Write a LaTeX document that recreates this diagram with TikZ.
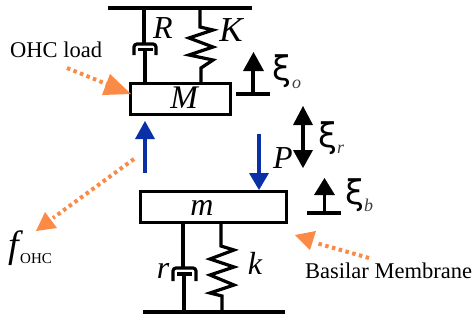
\documentclass[tikz,border=0pt]{standalone}
\usepackage{fontspec}
\setmainfont{Liberation Serif}
\newfontfamily\xifont{DejaVu Sans}
\definecolor{orangeA}{HTML}{FA8A46}
\definecolor{blueA}{HTML}{0A30A8}
\newcommand{\fsz}[1]{\fontsize{#1}{#1}\selectfont}
\tikzset{
 bar/.style={line width=3.8pt},
 rod/.style={line width=3.2pt},
 massbox/.style={draw,line width=3.6pt,fill=white,inner sep=0pt,minimum width=#1,minimum height=31pt},
 bigit/.style={font=\fsz{32}\itshape,inner sep=0pt,anchor=base},
 labelt/.style={font=\fsz{22.5},inner sep=0pt,anchor=base west},
 xig/.style={font=\xifont\fsz{34},inner sep=0pt,anchor=base west},
 subit/.style={font=\fsz{18}\itshape,text=black!75,inner sep=0pt,anchor=base west},
 dots/.style={draw=orangeA,line width=4pt,dash pattern=on 3.5pt off 3.5pt},
 orhead/.style={fill=orangeA,draw=none},
 bluearrow/.style={draw=blueA,line width=4pt},
 bluehead/.style={fill=blueA,draw=none},
 blackhead/.style={fill=black,draw=none},
}
\begin{document}
\begin{tikzpicture}[x=1pt,y=-1pt,line join=miter]
\useasboundingbox (0,0) rectangle (472,325);
% masses
\node[massbox=100pt] (M) at (180.5,99) {};
\node[massbox=146pt] (mm) at (213.5,207) {};
\node[bigit,font=\fsz{33}\itshape] (Mt) at (184,108) {M};
\node[bigit] (mt) at (202,215) {m};
% top assembly
\coordinate (tl) at (108,8); \coordinate (tr) at (252,8);
\draw[bar] (tl) -- (tr);
\coordinate (Rtop) at (144,8); \coordinate (Rcap) at (144,43);
\coordinate (Rpis) at (145,49); \coordinate (Rbot) at (145,82);
\draw[rod] (Rtop) -- (Rcap);
\draw[rod,rounded corners=3pt] (134,55) -- (134,44) -- (156,44) -- (156,55);
\draw[rod] (138,49.5) -- (153,49.5);
\draw[rod] (Rpis) -- (Rbot);
\coordinate (Ktop) at (200,8); \coordinate (Kbot) at (201,82);
\draw[rod] (Ktop) -- (200,27) -- (213,30) -- (189,38) -- (213,47) -- (189,55) -- (213,60) -- (201,68) -- (Kbot);
\node[bigit] (R) at (163,38) {R};
\node[bigit,font=\fsz{35}\itshape] (K) at (231,41) {K};
% bottom assembly
\coordinate (bl) at (143,312); \coordinate (br) at (285,312);
\draw[bar] (bl) -- (br);
\coordinate (rtop) at (183,224); \coordinate (rcap) at (183,267);
\coordinate (rpis) at (184,273); \coordinate (rbot) at (184,312);
\draw[rod] (rtop) -- (rcap);
\draw[rod,rounded corners=3pt] (173,281) -- (173,268) -- (196,268) -- (196,281);
\draw[rod] (177,274) -- (192,274);
\draw[rod] (rpis) -- (rbot);
\coordinate (ktop) at (221,224); \coordinate (kbot) at (222,312);
\draw[rod] (ktop) -- (221,246) -- (234,250) -- (210,259) -- (234,267) -- (210,275) -- (234,285) -- (210,293) -- (222,296) -- (kbot);
\node[bigit] (r) at (163,278) {r};
\node[bigit] (k) at (255,274) {k};
% blue arrows
\coordinate (up1) at (145,173); \coordinate (up2) at (145,137);
\draw[bluearrow] (up1) -- (up2);
\fill[bluehead] (145,121) -- (155,139) -- (135,139) -- cycle;
\coordinate (dn1) at (259,134); \coordinate (dn2) at (259,175);
\draw[bluearrow] (dn1) -- (dn2);
\fill[bluehead] (259,190) -- (269,173) -- (249,173) -- cycle;
\node[bigit] (P) at (283,168) {P};
% xi arrows
\coordinate (xo1) at (253,94); \coordinate (xo2) at (253,70);
\draw[bar] (236,94) -- (270,94);
\draw[rod] (xo1) -- (xo2);
\fill[blackhead] (253.5,52) -- (264,71) -- (243,71) -- cycle;
\node[xig] (xio) at (272,80) {ξ};
\node[subit] (so) at (292,88) {o};
\coordinate (xr1) at (303,124); \coordinate (xr2) at (303,151);
\draw[rod] (xr1) -- (xr2);
\fill[blackhead] (303,106) -- (313,125) -- (293,125) -- cycle;
\fill[blackhead] (303,168) -- (313,150) -- (293,150) -- cycle;
\node[xig] (xir) at (318,147) {ξ};
\node[subit] (sr) at (337,153) {r};
\coordinate (xb1) at (324.5,213); \coordinate (xb2) at (324.5,194);
\draw[bar] (307,213) -- (341,213);
\draw[rod] (xb1) -- (xb2);
\fill[blackhead] (324.5,178) -- (335,195) -- (314,195) -- cycle;
\node[xig] (xib) at (345,204) {ξ};
\node[subit] (sb) at (364,211) {b};
% labels
\node[labelt] (ohc) at (10,57) {OHC load};
\node[labelt] (bm) at (305,278) {Basilar Membrane};
\node[bigit,font=\fsz{38}\itshape,anchor=base west] (f) at (8,257) {f};
\node[labelt,font=\fsz{15}] (fo) at (20,263) {OHC};
% orange arrows
\coordinate (a1) at (67,68); \coordinate (a2) at (109,85);
\draw[dots] (a1) -- (a2);
\fill[orhead] (131,94) -- (110,74) -- (102,95) -- cycle;
\coordinate (b1) at (134,159); \coordinate (b2) at (53,218);
\draw[dots] (b1) -- (b2);
\fill[orhead] (36,231) -- (45,212) -- (57,228) -- cycle;
\coordinate (c1) at (369,258); \coordinate (c2) at (316,243);
\draw[dots] (c1) -- (c2);
\fill[orhead] (295,235) -- (316,231) -- (310,250) -- cycle;
\end{tikzpicture}
\end{document}
